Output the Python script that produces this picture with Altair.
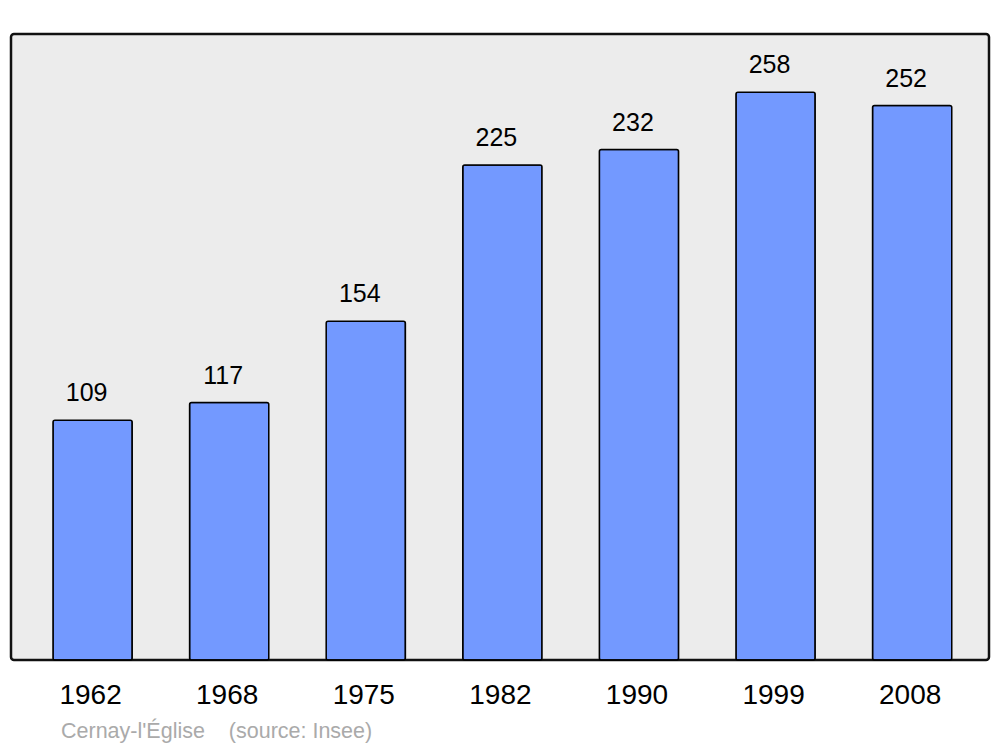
import altair as alt
import pandas as pd

years = ["1962", "1968", "1975", "1982", "1990", "1999", "2008"]
population = [109, 117, 154, 225, 232, 258, 252]

df = pd.DataFrame({"year": years, "pop": population})

x = alt.X("year:N", sort=years,
          scale=alt.Scale(paddingInner=0.42, paddingOuter=0.29, align=0.53),
          axis=alt.Axis(title=None, labelAngle=0, labelFontSize=28, labelColor="#000000",
                        labelFont="Liberation Sans", domain=False, ticks=False,
                        labelPadding=21, labelOffset=-2, grid=False))
y = alt.Y("pop:Q", scale=alt.Scale(domain=[0, 284.5], nice=False, zero=True),
          axis=None)

bars = alt.Chart(df).mark_bar(color="#7399ff", stroke="#000000", strokeWidth=1.5,
                              cornerRadius=2).encode(x=x, y=y)
labels = alt.Chart(df).mark_text(dy=-27, dx=-6, baseline="middle", fontSize=25,
                                 font="Liberation Sans", color="#000000").encode(
    x=x, y=y, text="pop:Q")

chart = alt.layer(bars, labels).properties(
    width=978, height=626,
    padding={"left": 3, "top": 26, "right": 3, "bottom": 5},
    title=alt.TitleParams("Cernay-l'Église\u00a0\u00a0\u00a0\u00a0(source: Insee)", orient="bottom",
                          anchor="start", fontSize=21.5, color="#aaaaaa",
                          font="Liberation Sans", fontWeight="normal",
                          dx=50, offset=12),
).configure(background="white").configure_view(
    fill="#ececec", stroke="#111111", strokeWidth=2.5, cornerRadius=3
)

chart.save("out.html", embed_options={"renderer": "svg", "actions": False})
